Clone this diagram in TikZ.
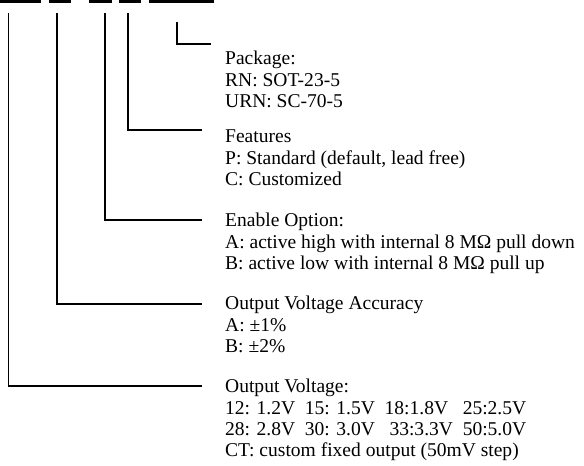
\documentclass[tikz,border=0pt]{standalone}
\usepackage{fontspec}
\setmainfont{Liberation Serif}
\begin{document}
\begin{tikzpicture}[x=1bp,y=-1bp,
  lead/.style={line width=1.3bp,black},
  bar/.style={fill=black,draw=none},
  blk/.style={anchor=north west,inner sep=0pt,align=left,font=\fontsize{19.6}{21.4}\selectfont}]
\useasboundingbox (0,0) rectangle (584,466);
% part-number underscores
\fill[bar] (0,0) rectangle (41,3);
\fill[bar] (49,0) rectangle (71,3);
\fill[bar] (89,0) rectangle (112,3);
\fill[bar] (119,0) rectangle (141,3);
\fill[bar] (149,0) rectangle (214,3);
% text blocks
\node[blk] (pkg) at (225,51) {Package:\\RN: SOT-23-5\\URN: SC-70-5};
\node[blk] (feat) at (225,130) {Features\\P: Standard (default, lead free)\\C: Customized};
\node[blk] (en) at (225,213) {Enable Option:\\A: active high with internal 8 MΩ pull down\\B: active low with internal 8 MΩ pull up};
\node[blk] (acc) at (225,296) {Output Voltage Accuracy\\A: ±1\%\\B: ±2\%};
\node[blk] (vout) at (225,379) {Output Voltage:\\12: 1.2V\ \ 15: 1.5V\ \ 18:1.8V\ \ \ 25:2.5V\\28: 2.8V\ \ 30: 3.0V\ \ \ 33:3.3V\ \ 50:5.0V\\CT: custom fixed output (50mV step)};
% leaders
\coordinate (c1) at (177,22);
\coordinate (c2) at (128,13);
\coordinate (c3) at (105,13);
\coordinate (c4) at (57,13);
\coordinate (c5) at (8.5,13);
\coordinate (e1) at (211,44);
\coordinate (e2) at (202,130);
\coordinate (e3) at (202,220);
\coordinate (e4) at (202,304);
\coordinate (e5) at (202,386);
\draw[lead] (c1) |- (e1);
\draw[lead] (c2) |- (e2);
\draw[lead] (c3) |- (e3);
\draw[lead] (c4) |- (e4);
\draw[lead] (c5) |- (e5);
\end{tikzpicture}
\end{document}
